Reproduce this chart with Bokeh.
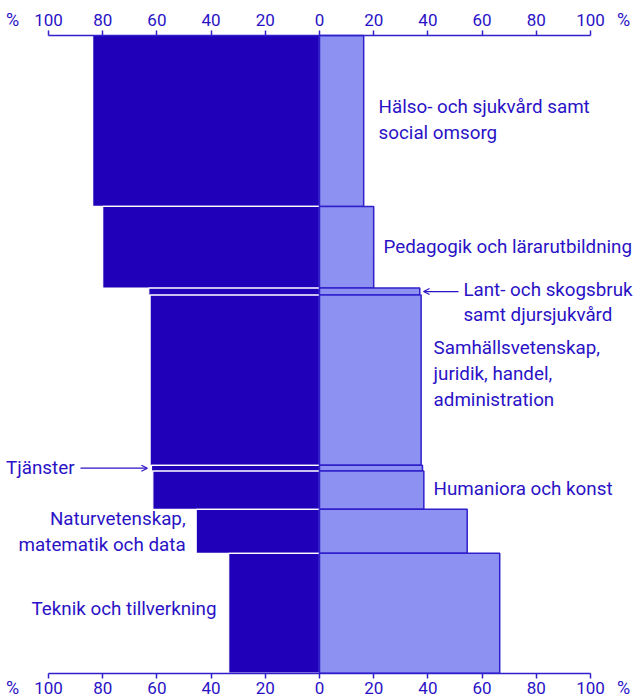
from bokeh.plotting import figure
from bokeh.models import (Range1d, LinearAxis, FixedTicker, Arrow,
                          OpenHead, ColumnDataSource)
from bokeh.core.properties import value
from bokeh.embed import file_html
from bokeh.resources import INLINE

# ---------------- data ----------------
categories = [
    "Hälso- och sjukvård samt\nsocial omsorg",
    "Pedagogik och lärarutbildning",
    "Lant- och skogsbruk\nsamt djursjukvård",
    "Samhällsvetenskap,\njuridik, handel,\nadministration",
    "Tjänster",
    "Humaniora och konst",
    "Naturvetenskap,\nmatematik och data",
    "Teknik och tillverkning",
]
share = [26.8, 12.8, 1.1, 26.7, 0.9, 6.0, 6.9, 18.8]       # bar thickness (share of all)
women = [83.7, 80.0, 63.0, 62.5, 62.0, 61.5, 45.5, 33.5]   # % (left, dark)
men = [16.3, 20.0, 37.0, 37.5, 38.0, 38.5, 54.5, 66.5]     # % (right, light)
tick_values = [-100, -80, -60, -40, -20, 0, 20, 40, 60, 80, 100]
tick_labels = ["100", "80", "60", "40", "20", "0", "20", "40", "60", "80", "100"]
unit_label = "%"

# ---------------- layout / style ----------------
label_x = [21.8, 23.6, 53.1, 42.1, -90.4, 42.1, -49.4, -38.0]
label_side = ["right", "right", "right", "right", "left", "right", "left", "left"]
label_dy = [-1, 0, 11, -6, 0, -1, 1, -4]
arrows = {2: (51.3, 38.4), 4: (-88.2, -63.5)}

DARK = "#2100b9"
LIGHT = "#8c91f2"
EDGE = "#3020cc"
TEXT = "#2a12c6"
FONT = "Roboto"

tops, bottoms, mids = [], [], []
acc = 0.0
for s in share:
    tops.append(acc)
    bottoms.append(acc + s)
    mids.append(acc + s / 2)
    acc += s

W, H = 635, 698
ZERO_PX, PX_PER = 319, 2.71          # horizontal mapping
TOP_PX, BOT_PX = 35, 672.7           # where the bars start / end
ypx = (BOT_PX - TOP_PX) / acc
x0 = -ZERO_PX / PX_PER
x1 = (W - ZERO_PX) / PX_PER
y_top = -TOP_PX / ypx
y_bot = acc + (H - BOT_PX) / ypx


def ydata(py):
    return (py - TOP_PX) / ypx


p = figure(width=W, height=H, x_range=Range1d(x0, x1), y_range=Range1d(y_bot, y_top),
           output_backend="svg", toolbar_location=None,
           x_axis_location=None, y_axis_location=None, min_border=0)
p.outline_line_color = None
p.grid.visible = False
p.background_fill_color = "white"
p.border_fill_color = "white"

src = ColumnDataSource(dict(top=tops, bottom=bottoms, women=[-w for w in women],
                            men=men, zero=[0] * len(share)))
p.quad(left="women", right="zero", top="top", bottom="bottom", source=src,
       fill_color=DARK, line_color="white", line_width=1.2)
p.quad(left="zero", right="men", top="top", bottom="bottom", source=src,
       fill_color=LIGHT, line_color=EDGE, line_width=1.5)

lab = ColumnDataSource(dict(
    x=label_x, y=mids, text=categories,
    align=["left" if s == "right" else "right" for s in label_side],
    dy=label_dy))
p.text(x="x", y="y", text="text", source=lab, text_align="align",
       text_baseline="middle", y_offset="dy", text_font=value(FONT),
       text_font_size=value("18.8px"), text_color=TEXT, text_line_height=1.17)

for i, (xs, xe) in arrows.items():
    p.add_layout(Arrow(x_start=xs, y_start=mids[i], x_end=xe, y_end=mids[i],
                       line_color=TEXT, line_width=1.2,
                       end=OpenHead(size=6, line_color=TEXT, line_width=1.2)))

overrides = {v: t for v, t in zip(tick_values, tick_labels)}
for loc, fixed, standoff in [("above", 0.0, 5), ("below", acc, 4)]:
    ax = LinearAxis(ticker=FixedTicker(ticks=tick_values, minor_ticks=[]),
                    major_label_overrides=overrides, bounds=(-100, 100),
                    fixed_location=fixed)
    ax.major_tick_out = 5
    ax.major_tick_in = 0
    ax.major_tick_line_width = 1.5
    ax.major_tick_line_color = EDGE
    ax.axis_line_color = EDGE
    ax.axis_line_width = 1.5
    ax.minor_tick_line_color = None
    ax.major_label_standoff = standoff
    ax.major_label_text_font = FONT
    ax.major_label_text_font_size = "17px"
    ax.major_label_text_color = TEXT
    p.add_layout(ax, loc)

# unit signs at both ends of both axes, level with the tick labels
ux = [(12 - ZERO_PX) / PX_PER, (623 - ZERO_PX) / PX_PER] * 2
uy = [ydata(19)] * 2 + [ydata(687)] * 2
p.text(x=ux, y=uy, text=[unit_label] * 4, text_align="center",
       text_baseline="middle", text_font=value(FONT),
       text_font_size=value("18px"), text_color=TEXT)

open("out.html", "w").write(file_html(p, INLINE))
